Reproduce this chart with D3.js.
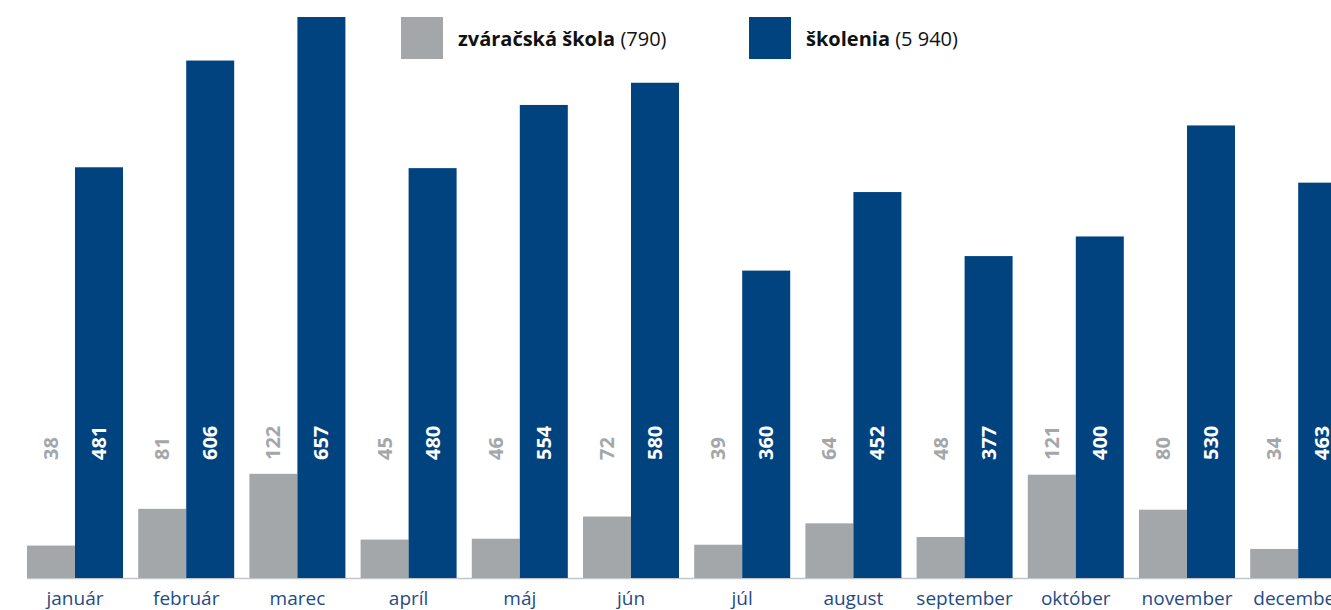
<!DOCTYPE html>
<html>
<head>
<meta charset="utf-8">
<script src="https://cdn.jsdelivr.net/npm/d3@7"></script>
<style>
  body { margin: 0; background: #fff; }
  svg { display: block; font-family: "Open Sans", sans-serif; }
</style>
</head>
<body>
<div id="chart"></div>
<script>
const months = ["január", "február", "marec", "apríl", "máj", "jún", "júl", "august", "september", "október", "november", "december"];
const series = ["zváračská škola", "školenia"];
const totals = ["790", "5 940"];
const welding = [38, 81, 122, 45, 46, 72, 39, 64, 48, 121, 80, 34];
const training = [481, 606, 657, 480, 554, 580, 360, 452, 377, 400, 530, 463];
const colors = ["#a4a7aa", "#00437f"];

const data = months.map((m, i) => ({ month: m, values: [welding[i], training[i]] }));

const width = 1331, height = 610;

const svg = d3.select("#chart").append("svg")
    .attr("width", width)
    .attr("height", height);

// scales
const x0 = d3.scaleBand()
    .domain(months)
    .range([19.4, 1353.8])
    .paddingInner(0.1367)
    .paddingOuter(0.0684);

const x1 = d3.scaleBand()
    .domain(series)
    .range([0, x0.bandwidth()]);

const y = d3.scaleLinear()
    .domain([0, 657])
    .range([578, 17]);

// baseline
svg.append("line")
    .attr("x1", x0.range()[0] + 7.6)
    .attr("x2", width)
    .attr("y1", y(0) + 0.5)
    .attr("y2", y(0) + 0.5)
    .attr("stroke", "#c3c6c9")
    .attr("stroke-width", 1.5);

// bars
const groups = svg.selectAll(".group")
    .data(data)
    .enter().append("g")
    .attr("class", "group")
    .attr("transform", d => `translate(${x0(d.month)},0)`);

groups.selectAll("rect")
    .data(d => d.values.map((v, i) => ({ key: series[i], value: v, i: i })))
    .enter().append("rect")
    .attr("x", d => x1(d.key))
    .attr("y", d => y(d.value))
    .attr("width", x1.bandwidth())
    .attr("height", d => y(0) - y(d.value))
    .style("fill", d => colors[d.i]);

// value labels (rotated)
groups.selectAll(".val")
    .data(d => d.values.map((v, i) => ({ key: series[i], value: v, i: i })))
    .enter().append("text")
    .attr("class", "val")
    .attr("transform", d => `translate(${x1(d.key) + x1.bandwidth() / 2 + 7},460) rotate(-90)`)
    .style("text-anchor", "start")
    .style("font-size", "20px")
    .style("font-weight", 700)
    .style("fill", d => d.i === 1 ? "#ffffff" : "#a4a7aa")
    .text(d => d.value);

// month labels
svg.selectAll(".month")
    .data(months)
    .enter().append("text")
    .attr("class", "month")
    .attr("x", d => x0(d) + x0.bandwidth() / 2)
    .attr("y", 605)
    .style("text-anchor", "middle")
    .style("font-size", "19px")
    .style("fill", "#1f4b87")
    .text(d => d);

// legend
const legendX = [401, 749];
const legend = svg.selectAll(".legend")
    .data(series)
    .enter().append("g")
    .attr("class", "legend")
    .attr("transform", (d, i) => `translate(${legendX[i]},17)`);

legend.append("rect")
    .attr("width", 42)
    .attr("height", 42)
    .style("fill", (d, i) => colors[i]);

const lt = legend.append("text")
    .attr("x", 57)
    .attr("y", 29)
    .style("font-size", "20px")
    .style("fill", "#111");

lt.append("tspan")
    .style("font-weight", 700)
    .text(d => d);

lt.append("tspan")
    .style("font-weight", 400)
    .text((d, i) => ` (${totals[i]})`);
</script>
</body>
</html>
